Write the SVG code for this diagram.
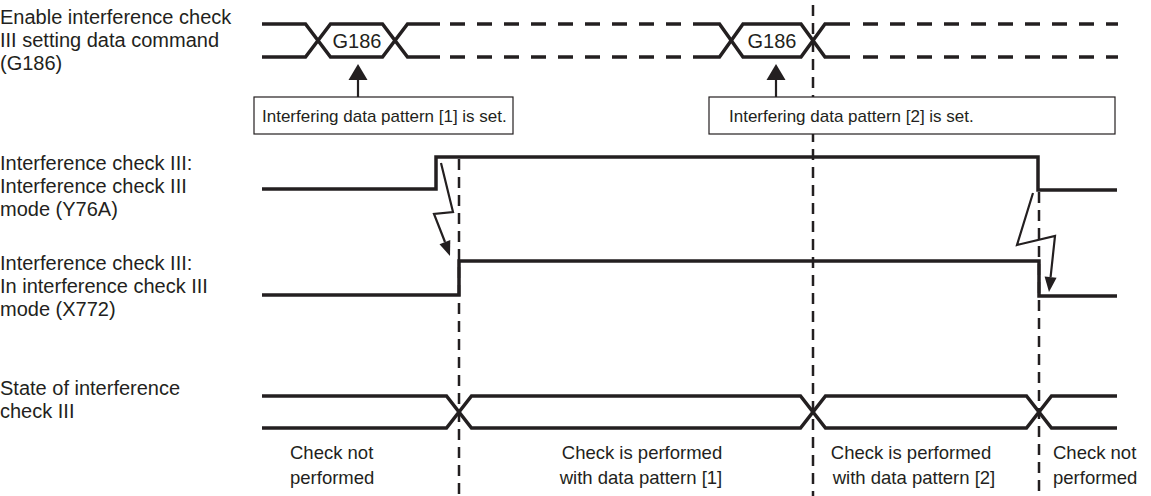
<svg xmlns="http://www.w3.org/2000/svg" width="1151" height="496" viewBox="0 0 1151 496">
<style>
text{font-family:"Liberation Sans",Arial,sans-serif;fill:#231f20;}
.lbl{font-size:20px;}
.st{font-size:18.5px;}
.box{font-size:17px;}
.g{font-size:20px;}
.sig{fill:none;stroke:#231f20;stroke-width:3.5;stroke-linejoin:miter;}
.busd{fill:none;stroke:#231f20;stroke-width:3.5;stroke-dasharray:15 12;}
.vd{fill:none;stroke:#231f20;stroke-width:2.5;stroke-dasharray:11 7;}
.bx{fill:#fff;stroke:#231f20;stroke-width:1.2;}
.ar{fill:none;stroke:#231f20;stroke-width:2.2;}
.hd{fill:#231f20;stroke:none;}
</style>

<g id="labels">
<text class="lbl" x="0" y="24">Enable interference check</text>
<text class="lbl" x="0" y="47">III setting data command</text>
<text class="lbl" x="0" y="70">(G186)</text>
<text class="lbl" x="0" y="170">Interference check III:</text>
<text class="lbl" x="0" y="193">Interference check III</text>
<text class="lbl" x="0" y="216">mode (Y76A)</text>
<text class="lbl" x="0" y="270">Interference check III:</text>
<text class="lbl" x="0" y="293">In interference check III</text>
<text class="lbl" x="0" y="316">mode (X772)</text>
<text class="lbl" x="0" y="395">State of interference</text>
<text class="lbl" x="0" y="418">check III</text>
</g>

<g id="vguides">
<line class="vd" x1="459" y1="159" x2="459" y2="496"/>
<line class="vd" x1="813" y1="5" x2="813" y2="496"/>
<line class="vd" x1="1039" y1="192" x2="1039" y2="496"/>
</g>

<g id="g186-signal">
<path class="sig" d="M262,24 H305.5 L330.5,57 H382.5 L407.5,24 H440"/>
<path class="sig" d="M262,57 H305.5 L330.5,24 H382.5 L407.5,57 H440"/>
<path class="busd" d="M450,24 H708 M450,57 H708"/>
<path class="sig" d="M708,24 H719.5 L743,57 H801 L825,24 H850"/>
<path class="sig" d="M708,57 H719.5 L743,24 H801 L825,57 H850"/>
<path class="busd" d="M863,24 H1118 M863,57 H1118"/>
<text class="g" x="357" y="48" text-anchor="middle">G186</text>
<text class="g" x="772" y="48" text-anchor="middle">G186</text>
</g>

<g id="note1">
<rect class="bx" x="254" y="97" width="259" height="37"/>
<text class="box" x="262" y="122">Interfering data pattern [1] is set.</text>
</g>
<g id="note2">
<rect class="bx" x="709" y="97" width="406" height="37"/>
<text class="box" x="729" y="122">Interfering data pattern [2] is set.</text>
</g>

<g id="y76a">
<path class="sig" d="M262,189 H436 V157 H1038 V190 H1117"/>
</g>
<g id="x772">
<path class="sig" d="M262,295 H459 V261 H1039 V296 H1117"/>
</g>

<g id="state">
<path class="sig" d="M262,396 H446.5 L471.5,428 H800.5 L825.5,396 H1026.5 L1051.5,428 H1117"/>
<path class="sig" d="M262,428 H446.5 L471.5,396 H800.5 L825.5,428 H1026.5 L1051.5,396 H1117"/>
</g>

<g id="connectors">
<line class="ar" x1="358" y1="97" x2="358" y2="78"/>
<path class="hd" d="M358,64 L367.5,80 L348.5,80 Z"/>
<line class="ar" x1="776" y1="97" x2="776" y2="78"/>
<path class="hd" d="M776,64 L785.5,80 L766.5,80 Z"/>
<polyline class="ar" points="441,163 453,212 434,214 445,242"/>
<path class="hd" d="M450,256 L450.3,240 L439.5,244.2 Z"/>
<polyline class="ar" points="1033,193 1017,245 1055,236 1050.6,277"/>
<path class="hd" d="M1049,292 L1056.6,277.7 L1044.6,276.5 Z"/>
</g>

<g id="state-labels">
<text class="st" x="290" y="459">Check not</text>
<text class="st" x="290" y="484">performed</text>
<text class="st" x="642" y="459" text-anchor="middle">Check is performed</text>
<text class="st" x="641" y="484" text-anchor="middle">with data pattern [1]</text>
<text class="st" x="911" y="459" text-anchor="middle">Check is performed</text>
<text class="st" x="914" y="484" text-anchor="middle">with data pattern [2]</text>
<text class="st" x="1053" y="459">Check not</text>
<text class="st" x="1053" y="484">performed</text>
</g>
</svg>
